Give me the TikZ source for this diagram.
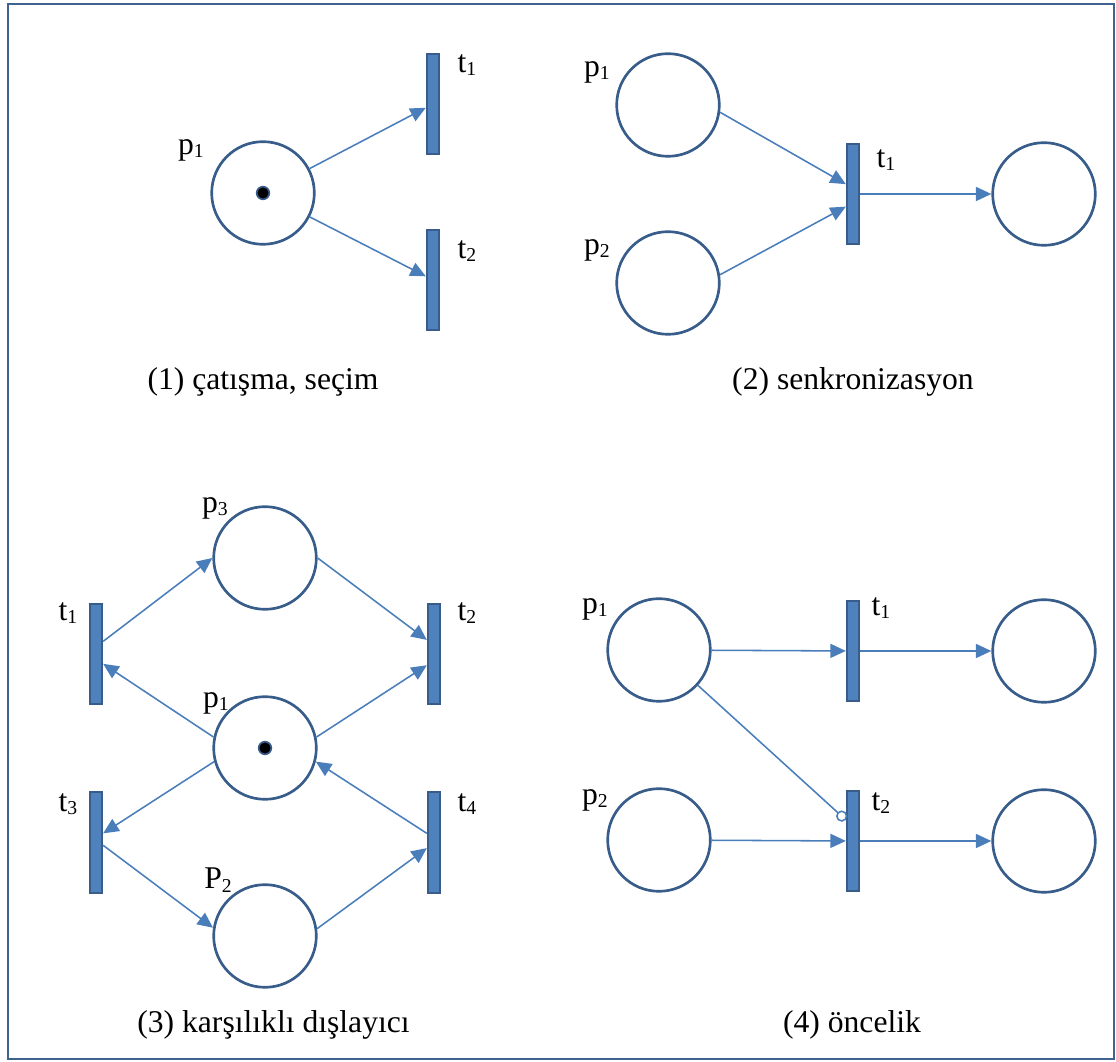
\documentclass[tikz,border=0pt]{standalone}
\usepackage{fontspec}
\setmainfont{Liberation Serif}
\usetikzlibrary{arrows.meta}
\definecolor{PlaceLine}{HTML}{385D8A}
\definecolor{BarFill}{HTML}{4F81BD}
\definecolor{BarLine}{HTML}{385D8A}
\definecolor{FlowBlue}{HTML}{4A7EBB}
\definecolor{FrameLine}{HTML}{3F6390}
\newcommand{\lsub}[1]{\raisebox{-2.5pt}{\fontsize{14}{14}\selectfont #1}}
\tikzset{
  pl/.style={circle,draw=PlaceLine,line width=1.9pt,fill=white,minimum size=73pt,inner sep=0pt},
  tr/.style={rectangle,draw=BarLine,fill=BarFill,line width=1.2pt,minimum width=9pt,minimum height=71.5pt,inner sep=0pt},
  tk/.style={circle,fill=black,draw=PlaceLine,line width=1.2pt,minimum size=9pt,inner sep=0pt},
  fl/.style={draw=FlowBlue,line width=1.1pt,-{Triangle[length=11pt,width=10pt]}},
  inh/.style={draw=FlowBlue,line width=1.1pt,-{Circle[open,length=8pt,width=8pt]}},
  lb/.style={font=\fontsize{22.5}{26}\selectfont,inner sep=0pt},
  cpt/.style={font=\fontsize{22.5}{27}\selectfont,inner sep=0pt},
}
\begin{document}
\begin{tikzpicture}[x=2.5cm,y=2.5cm]
\useasboundingbox (0,0) rectangle (11.16,10.62);
\draw[draw=FrameLine,line width=1.8pt] (0.08,0.03) rectangle (11.14,10.58);
% -conflict-
\begin{scope}[shift={(0,5.31)}]
\node[pl] (Ap1) at (2.63,3.38) {};
\node[tk] (Ak1) at (Ap1) {};
\node[tr] (At1) at (4.33,4.27) {};
\node[tr] (At2) at (4.33,2.51) {};
\node[lb] (Ap1l) at (1.91,3.81) {p\lsub{1}};
\node[lb] (At1l) at (4.67,4.66) {t\lsub{1}};
\node[lb] (At2l) at (4.67,2.80) {t\lsub{2}};
\draw[fl] (Ap1) -- (At1);
\draw[fl] (Ap1) -- (At2);
\node[cpt] (Acap) at (2.63,1.49) {(1) çatışma, seçim};
\end{scope}
% -sync-
\begin{scope}[shift={(5.9,5.31)}]
\node[pl] (Bp1) at (0.78,4.26) {};
\node[pl] (Bp2) at (0.78,2.48) {};
\node[tr] (Bt1) at (2.63,3.37) {};
\node[pl] (Bo1) at (4.54,3.37) {};
\node[lb] (Bp1l) at (0.07,4.59) {p\lsub{1}};
\node[lb] (Bp2l) at (0.07,2.81) {p\lsub{2}};
\node[lb] (Bt1l) at (2.96,3.71) {t\lsub{1}};
\draw[fl] (Bp1.-8) -- ([yshift=7pt]Bt1.west);
\draw[fl] (Bp2.9) -- ([yshift=-9pt]Bt1.west);
\draw[fl] (Bt1) -- (Bo1);
\node[cpt] (Bcap) at (2.63,1.49) {(2) senkronizasyon};
\end{scope}
% -mutex-
\begin{scope}[shift={(0,0)}]
\node[pl] (Cp3) at (2.65,5.04) {};
\node[pl] (Cp1) at (2.65,3.14) {};
\node[tk] (Ck1) at (Cp1) {};
\node[pl] (Cp2) at (2.65,1.26) {};
\foreach \n/\x/\y in {Ct1/0.96/4.08,Ct2/4.34/4.08,Ct3/0.96/2.195,Ct4/4.34/2.195}{\node[tr] (\n) at (\x,\y) {};}
\node[lb] (Cp3l) at (2.15,5.54) {p\lsub{3}};
\node[lb] (Cp1l) at (2.16,3.59) {p\lsub{1}};
\node[lb] (Cp2l) at (2.18,1.82) {P\lsub{2}};
\node[lb] (Ct1l) at (0.68,4.49) {t\lsub{1}};
\node[lb] (Ct2l) at (4.67,4.49) {t\lsub{2}};
\node[lb] (Ct3l) at (0.68,2.58) {t\lsub{3}};
\node[lb] (Ct4l) at (4.67,2.58) {t\lsub{4}};
\draw[fl] ([yshift=9pt]Ct1.east) -- (Cp3.west);
\draw[fl] (Cp3.east) -- ([yshift=10pt]Ct2.west);
\draw[fl] (Cp1.168) -- ([yshift=-7pt]Ct1.east);
\draw[fl] (Cp1.12) -- ([yshift=-8pt]Ct2.west);
\draw[fl] (Cp1.195) -- ([yshift=6.5pt]Ct3.east);
\draw[fl] ([yshift=6.5pt]Ct4.west) -- (Cp1.-15);
\draw[fl] ([yshift=-2pt]Ct3.east) -- (Cp2.171);
\draw[fl] (Cp2.8) -- ([yshift=-4pt]Ct4.west);
\node[cpt] (Ccap) at (2.735,0.37) {(3) karşılıklı dışlayıcı};
\end{scope}
% -priority-
\begin{scope}[shift={(5.9,0)}]
\node[pl] (Dp1) at (0.69,4.12) {};
\node[pl] (Dp2) at (0.69,2.22) {};
\node[tr] (Dt1) at (2.63,4.11) {};
\node[tr] (Dt2) at (2.63,2.21) {};
\node[pl] (Do1) at (4.54,4.11) {};
\node[pl] (Do2) at (4.54,2.21) {};
\node[lb] (Dp1l) at (0.05,4.53) {p\lsub{1}};
\node[lb] (Dp2l) at (0.05,2.62) {p\lsub{2}};
\node[lb] (Dt1l) at (2.91,4.54) {t\lsub{1}};
\node[lb] (Dt2l) at (2.91,2.59) {t\lsub{2}};
\draw[fl] (Dp1) -- (Dt1);
\draw[fl] (Dp2) -- (Dt2);
\draw[fl] (Dt1) -- (Do1);
\draw[fl] (Dt2) -- (Do2);
\draw[inh] (Dp1) -- ([yshift=15pt]Dt2.west);
\node[cpt] (Dcap) at (2.62,0.37) {(4) öncelik};
\end{scope}
\end{tikzpicture}
\end{document}
